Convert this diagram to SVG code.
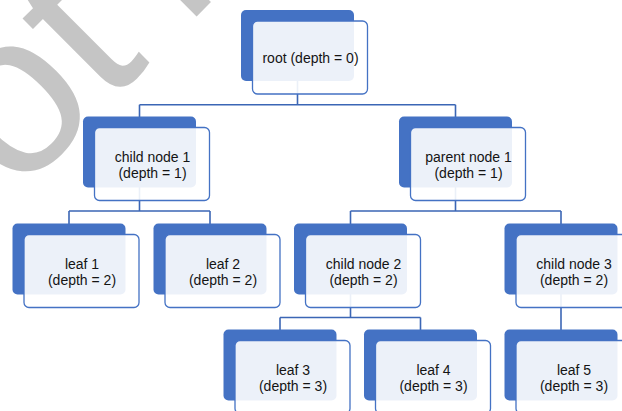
<svg xmlns="http://www.w3.org/2000/svg" width="622" height="411" viewBox="0 0 622 411">
<style>
.bg{fill:#ffffff}
.wm{fill:#c5c5c5;font-family:"Liberation Sans",Arial,sans-serif;font-size:230px}
.back{fill:#4472c4}
.front{fill:#ffffff;fill-opacity:0.9;stroke:#4472c4;stroke-width:1.3}
.lbl{fill:#141414;font-family:"Liberation Sans",Arial,sans-serif;font-size:14px;text-anchor:middle}
.conn{fill:none;stroke:#3b66b5;stroke-width:1.6}
</style>
<defs>
<g id="shape">
<rect class="back" x="0" y="0" width="113" height="71" rx="5"/>
<rect class="front" x="11.5" y="11" width="115" height="73" rx="5"/>
</g>
</defs>
<rect class="bg" x="0" y="0" width="622" height="411"/>
<g id="watermark" class="wm" transform="translate(-102,315) rotate(-45)">
<text x="166">o</text>
<text x="294">t</text>
<text x="402">f</text>
</g>
<g id="connectors">
<path class="conn" d="M297.5 60V104.8M139.5 104.8H455.5M139.5 104.8V130M455.5 104.8V130"/>
<path class="conn" d="M139.5 170V211M69 211H210M69 211V235M210 211V235"/>
<path class="conn" d="M455.5 170V211M350.5 211H561M350.5 211V235M561 211V235"/>
<path class="conn" d="M350.5 280V317.5M280 317.5H420.5M280 317.5V340M420.5 317.5V340"/>
<path class="conn" d="M561 280V340"/>
</g>
<g id="root" transform="translate(241,10)"><use href="#shape"/><text class="lbl" x="69.5" y="53">root (depth = 0)</text></g>
<g id="child1" transform="translate(83,116.5)"><use href="#shape"/><text class="lbl"><tspan x="69.5" y="45">child node 1</tspan><tspan x="69.5" dy="16">(depth = 1)</tspan></text></g>
<g id="parent1" transform="translate(399,116.5)"><use href="#shape"/><text class="lbl"><tspan x="69.5" y="45">parent node 1</tspan><tspan x="69.5" dy="16">(depth = 1)</tspan></text></g>
<g id="leaf1" transform="translate(12.5,223.5)"><use href="#shape"/><text class="lbl"><tspan x="69.5" y="45">leaf 1</tspan><tspan x="69.5" dy="16">(depth = 2)</tspan></text></g>
<g id="leaf2" transform="translate(153.5,223.5)"><use href="#shape"/><text class="lbl"><tspan x="69.5" y="45">leaf 2</tspan><tspan x="69.5" dy="16">(depth = 2)</tspan></text></g>
<g id="child2" transform="translate(294,223.5)"><use href="#shape"/><text class="lbl"><tspan x="69.5" y="45">child node 2</tspan><tspan x="69.5" dy="16">(depth = 2)</tspan></text></g>
<g id="child3" transform="translate(504.5,223.5)"><use href="#shape"/><text class="lbl"><tspan x="69.5" y="45">child node 3</tspan><tspan x="69.5" dy="16">(depth = 2)</tspan></text></g>
<g id="leaf3" transform="translate(223.5,329.5)"><use href="#shape"/><text class="lbl"><tspan x="69.5" y="45">leaf 3</tspan><tspan x="69.5" dy="16">(depth = 3)</tspan></text></g>
<g id="leaf4" transform="translate(364,329.5)"><use href="#shape"/><text class="lbl"><tspan x="69.5" y="45">leaf 4</tspan><tspan x="69.5" dy="16">(depth = 3)</tspan></text></g>
<g id="leaf5" transform="translate(504.5,329.5)"><use href="#shape"/><text class="lbl"><tspan x="69.5" y="45">leaf 5</tspan><tspan x="69.5" dy="16">(depth = 3)</tspan></text></g>
</svg>
